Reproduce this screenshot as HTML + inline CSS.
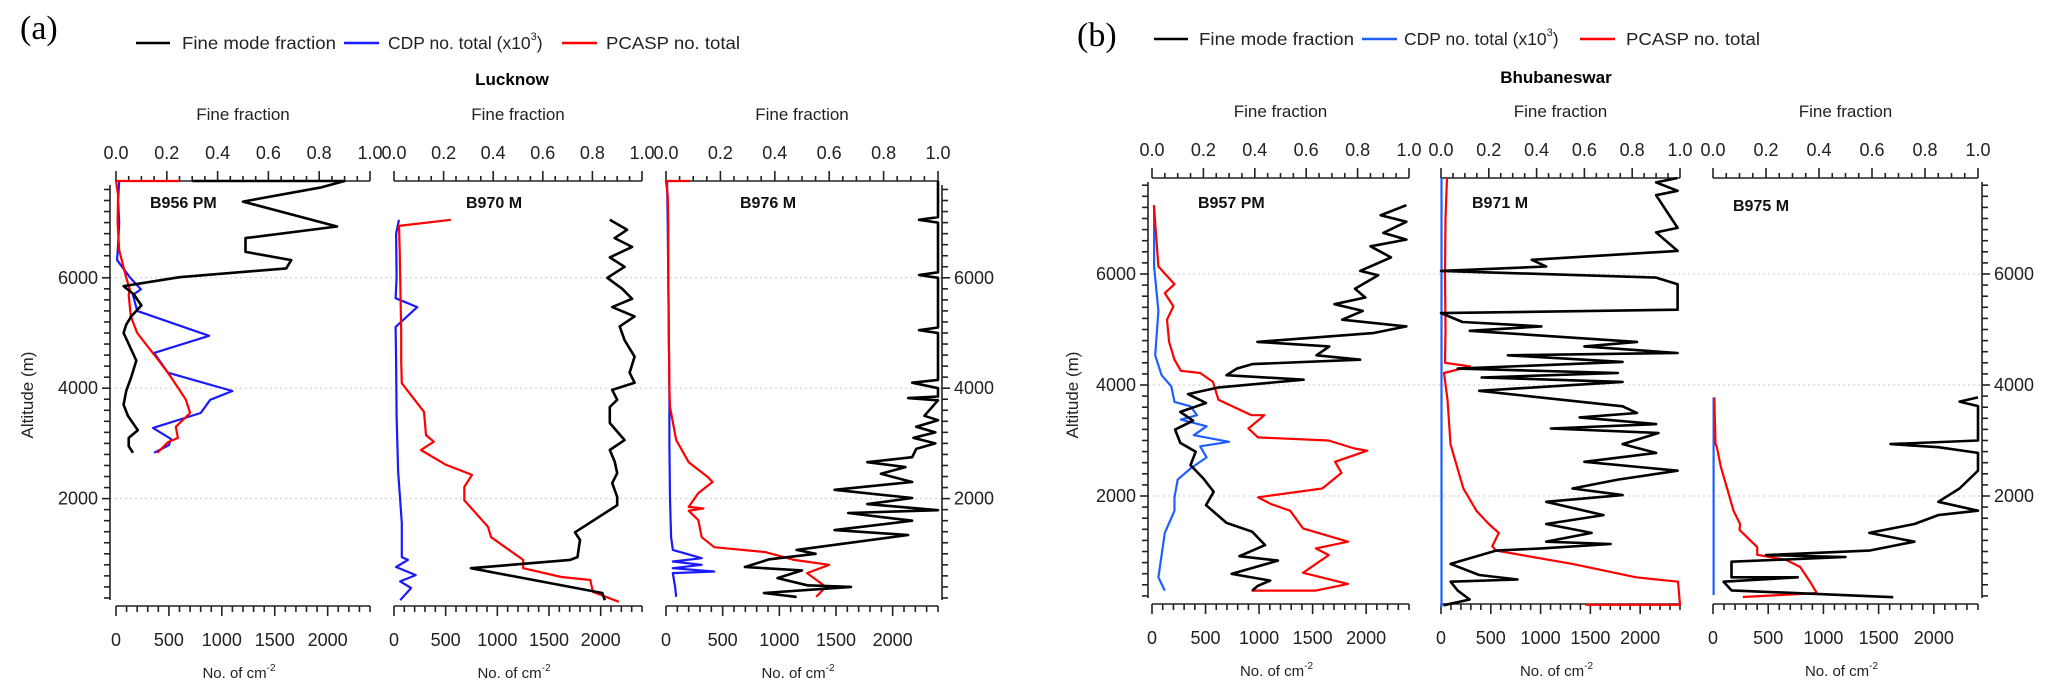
<!DOCTYPE html>
<html><head><meta charset="utf-8"><title>Aerosol profiles</title>
<style>
html,body{margin:0;padding:0;background:#fff;}
svg{display:block;font-family:"Liberation Sans",Arial,sans-serif;}
</style></head>
<body>
<svg id="chart" xmlns="http://www.w3.org/2000/svg" width="2067" height="697" viewBox="0 0 2067 697">
<rect x="0" y="0" width="2067" height="697" fill="#fff"/>
<!-- Panel (a) headers -->
<text x="20" y="39" font-family="Liberation Serif, serif" font-size="34">(a)</text>
<g font-size="17.5" fill="#222">
 <line x1="136" y1="43" x2="170" y2="43" stroke="#000" stroke-width="2.5"/>
 <text x="182" y="49" textLength="154" lengthAdjust="spacingAndGlyphs">Fine mode fraction</text>
 <line x1="344" y1="43" x2="379" y2="43" stroke="#1a1aff" stroke-width="2.5"/>
 <text x="388" y="49">CDP no. total (x10<tspan font-size="11" dy="-9">3</tspan><tspan dy="9">)</tspan></text>
 <line x1="562" y1="43" x2="597" y2="43" stroke="#f00" stroke-width="2.5"/>
 <text x="606" y="49" textLength="134" lengthAdjust="spacingAndGlyphs">PCASP no. total</text>
</g>
<text x="512" y="85" text-anchor="middle" font-weight="bold" font-size="17">Lucknow</text>
<!-- Panel (b) headers -->
<text x="1077" y="46" font-family="Liberation Serif, serif" font-size="34">(b)</text>
<g font-size="17.5" fill="#222">
 <line x1="1154" y1="39" x2="1188" y2="39" stroke="#000" stroke-width="2.5"/>
 <text x="1199" y="45" textLength="155" lengthAdjust="spacingAndGlyphs">Fine mode fraction</text>
 <line x1="1362" y1="39" x2="1397" y2="39" stroke="#1f5fff" stroke-width="2.5"/>
 <text x="1404" y="45">CDP no. total (x10<tspan font-size="11" dy="-9">3</tspan><tspan dy="9">)</tspan></text>
 <line x1="1580" y1="39" x2="1615" y2="39" stroke="#f00" stroke-width="2.5"/>
 <text x="1626" y="45" textLength="134" lengthAdjust="spacingAndGlyphs">PCASP no. total</text>
</g>
<text x="1556" y="83" text-anchor="middle" font-weight="bold" font-size="17">Bhubaneswar</text>
<text transform="translate(33,395) rotate(-90)" text-anchor="middle" font-size="17" fill="#222">Altitude (m)</text>
<text transform="translate(1078,395) rotate(-90)" text-anchor="middle" font-size="17" fill="#222">Altitude (m)</text>
</svg>
<script>
// ---------- DATA (altitude in m, fine fraction 0-1, counts in cm^-2) ----------
const a1_ff_alt=[7754,7754,7640,7380,6930,6720,6470,6320,6170,6010,5850,5700,5500,5300,5150,5000,4800,4500,4200,3950,3700,3500,3240,3100,2950,2830];
const a1_ff=[0.30,0.90,0.81,0.50,0.87,0.51,0.51,0.69,0.67,0.25,0.03,0.07,0.10,0.06,0.04,0.03,0.05,0.08,0.06,0.04,0.03,0.047,0.086,0.05,0.05,0.067];
const a1_cdp_alt=[7754,7400,7000,6600,6320,6010,5790,5690,5400,4950,4640,4280,3950,3790,3550,3280,3080,2970,2830];
const a1_cdp=[30,20,30,20,10,130,235,160,200,880,360,490,1100,890,800,350,520,500,360];
const a1_pcasp_alt=[7754,7754,7500,7000,6500,6010,5790,5690,5300,5000,4510,4280,4000,3790,3550,3300,3100,3020,2830];
const a1_pcasp=[600,0,20,15,30,95,130,120,140,200,400,490,590,660,700,565,585,490,390];

const a2_ff_alt=[7050,6870,6720,6560,6370,6200,6000,5800,5620,5470,5300,5120,4870,4570,4280,4100,3970,3790,3660,3370,3060,2880,2670,2460,2280,2030,1880,1390,1250,940,890,740,290,160];
const a2_ff=[0.87,0.94,0.89,0.96,0.87,0.93,0.86,0.92,0.96,0.88,0.97,0.91,0.93,0.97,0.95,0.97,0.88,0.90,0.87,0.87,0.93,0.87,0.89,0.90,0.88,0.90,0.90,0.73,0.75,0.74,0.71,0.31,0.84,0.85];
const a2_cdp_alt=[7050,6800,6000,5630,5470,5110,4500,3500,2500,1560,940,890,760,615,500,380,160];
const a2_cdp=[48,20,25,15,225,15,20,25,40,75,75,135,20,210,60,165,60];
const a2_pcasp_alt=[7050,6940,6500,6000,5500,5000,4500,4090,3570,3150,3030,2880,2610,2430,2210,1970,1490,1300,890,740,580,525,310,130];
const a2_pcasp=[550,48,55,60,65,70,70,75,290,310,385,260,505,755,680,680,910,940,1250,1250,1620,1900,1925,2175];

const a3_ff_alt=[7754,7100,7050,7000,6100,6050,6000,5100,5050,5000,4150,4100,4000,3850,3820,3780,3500,3420,3300,3200,3100,3000,2900,2750,2660,2570,2450,2300,2160,2010,1900,1790,1740,1600,1430,1340,1070,1000,900,760,700,560,430,400,290,220];
const a3_ff=[1.0,1.0,0.93,1.0,1.0,0.93,1.0,1.0,0.93,1.0,1.0,0.905,1.0,1.0,0.89,1.0,0.95,1.0,0.92,0.99,0.91,0.99,0.92,0.905,0.74,0.88,0.79,0.905,0.62,0.905,0.74,1.0,0.67,0.905,0.62,0.89,0.48,0.55,0.38,0.29,0.5,0.41,0.52,0.68,0.36,0.48];
const a3_cdp_alt=[7754,7000,6000,5000,4000,3000,2000,1300,1070,920,860,800,740,680,650,400,220];
const a3_cdp=[10,15,20,25,30,30,35,45,60,315,60,315,60,425,60,80,90];
const a3_pcasp_alt=[7754,7754,7500,7000,6000,5000,4000,3660,3060,2660,2390,2300,2100,1850,1820,1780,1610,1300,1120,1030,890,800,650,400,220];
const a3_pcasp=[210,0,15,20,20,25,30,35,90,200,370,410,285,200,330,200,285,315,425,875,1130,1440,1245,1410,1325];

const b1_ff_alt=[7240,7060,6940,6740,6620,6500,6300,6056,5976,5736,5576,5456,5336,5176,5056,4936,4776,4696,4536,4456,4376,4296,4176,4096,3956,3836,3676,3516,3356,3196,2956,2796,2556,2316,2076,1836,1516,1356,1116,916,836,596,476,376,296];
const b1_ff=[0.99,0.89,0.99,0.90,0.99,0.85,0.93,0.81,0.88,0.79,0.83,0.71,0.82,0.74,0.99,0.86,0.41,0.69,0.64,0.81,0.39,0.33,0.29,0.59,0.26,0.14,0.21,0.11,0.16,0.09,0.11,0.17,0.15,0.20,0.24,0.21,0.29,0.39,0.44,0.34,0.49,0.31,0.46,0.41,0.39];
const b1_cdp_alt=[7240,6136,5336,4536,4176,3976,3696,3616,3456,3376,3256,3096,2976,2896,2696,2496,2296,1976,1736,1336,936,536,296];
const b1_cdp=[20,20,60,30,90,180,210,360,420,270,510,390,720,450,510,360,240,210,210,120,90,60,120];
const b1_pcasp_alt=[7240,6136,5816,5656,5416,5176,4776,4456,4256,4216,4056,3736,3616,3456,3456,3216,3056,3000,2856,2816,2616,2416,2136,1976,1856,1736,1416,1176,1056,936,616,416,296,296];
const b1_pcasp=[18,60,210,120,200,140,160,210,270,450,570,620,750,930,1050,900,990,1650,1890,2010,1710,1770,1590,990,1110,1290,1410,1830,1530,1650,1410,1830,1530,930];

const b2_ff_alt=[7730,7650,7500,7420,6830,6750,6416,6336,6256,6136,6056,5936,5816,5356,5296,5136,5056,4976,4776,4696,4576,4536,4416,4296,4216,4136,4056,3896,3616,3496,3416,3296,3216,3136,2936,2776,2616,2456,2296,2136,2016,1896,1656,1496,1336,1176,1136,1056,1016,776,576,496,456,296,136,30];
const b2_ff=[0.99,0.9,0.99,0.9,0.99,0.9,0.99,0.68,0.38,0.44,0.0,0.9,0.99,0.99,0.0,0.09,0.42,0.12,0.82,0.6,0.99,0.28,0.76,0.07,0.74,0.17,0.76,0.16,0.76,0.82,0.58,0.9,0.46,0.91,0.76,0.9,0.6,0.99,0.74,0.55,0.76,0.44,0.68,0.44,0.63,0.44,0.71,0.42,0.23,0.04,0.16,0.32,0.04,0.07,0.12,0.01];
const b2_cdp_alt=[7730,4000,0];
const b2_cdp=[5,5,5];
const b2_pcasp_alt=[7730,7000,6000,5000,4400,4336,4216,3736,2936,2536,2136,1736,1496,1336,1096,1016,776,536,456,40,40];
const b2_pcasp=[60,45,40,45,40,290,30,65,95,160,225,355,480,580,515,550,1320,1960,2380,2400,1450];

const b3_ff_alt=[3776,3700,3620,3000,2936,2880,2776,2456,2136,1896,1736,1656,1496,1336,1176,1016,936,900,816,536,536,456,300,176];
const b3_ff=[1.0,0.93,1.0,1.0,0.67,0.85,1.0,1.0,0.93,0.85,1.0,0.85,0.76,0.59,0.76,0.59,0.2,0.5,0.07,0.07,0.32,0.04,0.07,0.68];
const b3_cdp_alt=[3776,2000,216];
const b3_cdp=[5,5,5];
const b3_pcasp_alt=[3776,2936,2880,2536,2050,1736,1496,1390,1080,940,850,720,450,250,180];
const b3_pcasp=[12,23,35,70,140,186,245,240,400,400,660,790,880,940,270];

const frac_ticks=["0.0","0.2","0.4","0.6","0.8","1.0"];
const count_ticks=["0","500","1000","1500","2000"];
const alt_ticks=["2000","4000","6000"];

// ---------- LAYOUT ----------
const NS="http://www.w3.org/2000/svg";
const svg=document.getElementById('chart');
function mk(tag,attrs,parent){const e=document.createElementNS(NS,tag);for(const k in attrs)e.setAttribute(k,attrs[k]);(parent||svg).appendChild(e);return e;}

const figs=[
 {id:'a',yBase:609,k:0.0552,topY:181,botY:606,left:110,right:942,blue:'#1a1aff',
  panels:[{x0:116,w:254,label:'B956 PM',lx:150,ly:208,d:[a1_ff_alt,a1_ff,a1_cdp_alt,a1_cdp,a1_pcasp_alt,a1_pcasp]},
          {x0:394,w:248,label:'B970 M',lx:466,ly:208,d:[a2_ff_alt,a2_ff,a2_cdp_alt,a2_cdp,a2_pcasp_alt,a2_pcasp]},
          {x0:666,w:272,label:'B976 M',lx:740,ly:208,d:[a3_ff_alt,a3_ff,a3_cdp_alt,a3_cdp,a3_pcasp_alt,a3_pcasp]}]},
 {id:'b',yBase:607,k:0.0555,topY:178,botY:604,left:1148,right:1982,blue:'#1f5fff',
  panels:[{x0:1152,w:257,label:'B957 PM',lx:1198,ly:208,d:[b1_ff_alt,b1_ff,b1_cdp_alt,b1_cdp,b1_pcasp_alt,b1_pcasp]},
          {x0:1441,w:239,label:'B971 M',lx:1472,ly:208,d:[b2_ff_alt,b2_ff,b2_cdp_alt,b2_cdp,b2_pcasp_alt,b2_pcasp]},
          {x0:1713,w:265,label:'B975 M',lx:1733,ly:211,d:[b3_ff_alt,b3_ff,b3_cdp_alt,b3_cdp,b3_pcasp_alt,b3_pcasp]}]}
];

figs.forEach(f=>{
 const yS=alt=>f.yBase-alt*f.k;
 // gridlines
 alt_ticks.forEach(t=>{
  const gl=mk('line',{x1:f.left,x2:f.right,y1:yS(+t),y2:yS(+t),stroke:'#c8c8c8','stroke-width':1,'stroke-dasharray':'2,3'});
  
  
 });
 // left & right altitude axes
 [[f.left,-1,'left'],[f.right,1,'right']].forEach(([ax,dir,side])=>{
  const g=mk('g',{stroke:'#222','stroke-width':1.6});
  
  
  mk('line',{x1:ax,x2:ax,y1:f.topY+4,y2:f.botY-6},g);
  for(let a=200;a<=7600;a+=200){
   const maj=a%2000===0;
   mk('line',{x1:ax,x2:ax+dir*(maj?8:6),y1:yS(a),y2:yS(a)},g);
  }
  alt_ticks.forEach(t=>{
   const tx=mk('text',{x:ax+dir*12,y:yS(+t)+6,'text-anchor':dir<0?'end':'start','font-size':18,fill:'#222',stroke:'none'},g);
   tx.textContent=t;
   
   
  });
 });
 f.panels.forEach((p,pi)=>{
  const xS=v=>p.x0+v/2400*p.w, xF=v=>p.x0+v*p.w;
  const cx=p.x0+p.w/2;
  // top axis
  const tg=mk('g',{stroke:'#222','stroke-width':1.6});
  
  
  mk('line',{x1:p.x0,x2:p.x0+p.w,y1:f.topY,y2:f.topY},tg);
  for(let i=0;i<=20;i++){const x=xF(i/20);mk('line',{x1:x,x2:x,y1:f.topY,y2:f.topY-(i%4===0?10:5)},tg);}
  frac_ticks.forEach(t=>{
   const tx=mk('text',{x:xF(+t),y:f.topY-22,'text-anchor':'middle','font-size':18,fill:'#222',stroke:'none'},tg);
   tx.textContent=t;
   
   
  });
  const ft=mk('text',{x:cx,y:f.topY-61,'text-anchor':'middle','font-size':17,fill:'#222'});
  ft.textContent='Fine fraction';
  
  
  // bottom axis
  const bg=mk('g',{stroke:'#222','stroke-width':1.6});
  
  
  mk('line',{x1:p.x0,x2:p.x0+p.w,y1:f.botY,y2:f.botY},bg);
  for(let v=0;v<=2400;v+=100){const x=xS(v);mk('line',{x1:x,x2:x,y1:f.botY,y2:f.botY+(v%500===0?10:6)},bg);}
  count_ticks.forEach(t=>{
   const tx=mk('text',{x:xS(+t),y:f.botY+40,'text-anchor':'middle','font-size':18,fill:'#222',stroke:'none'},bg);
   tx.textContent=t;
   
   
  });
  const bt=mk('text',{x:cx-4,y:f.botY+72,'text-anchor':'middle','font-size':15,fill:'#222'});
  
  
  bt.appendChild(document.createTextNode('No. of cm'));
  const sup=mk('tspan',{dy:-7,'font-size':10},bt);sup.textContent='-2';
  // flight label
  const fl=mk('text',{x:p.lx,y:p.ly,'font-size':16,'font-weight':'bold',fill:'#111'});
  fl.textContent=p.label;
  
  
  // series
  const [ffA,ff,cA,c,pA,pc]=p.d;
  const pts=(A,V,fx)=>{const n=Math.min(A.length,V.length);let s=[];for(let i=0;i<n;i++)s.push(fx(V[i]).toFixed(1)+','+yS(A[i]).toFixed(1));return s.join(' ');};
  const s1=mk('polyline',{points:pts(cA,c,xS),fill:'none',stroke:f.blue,'stroke-width':2.2,'stroke-linejoin':'round'});
  
  
  const s2=mk('polyline',{points:pts(pA,pc,xS),fill:'none',stroke:'#ff0000','stroke-width':2.2,'stroke-linejoin':'round'});
  
  
  const s3=mk('polyline',{points:pts(ffA,ff,xF),fill:'none',stroke:'#000','stroke-width':2.6,'stroke-linejoin':'round'});
  
  
 });
});
</script>
</body></html>
